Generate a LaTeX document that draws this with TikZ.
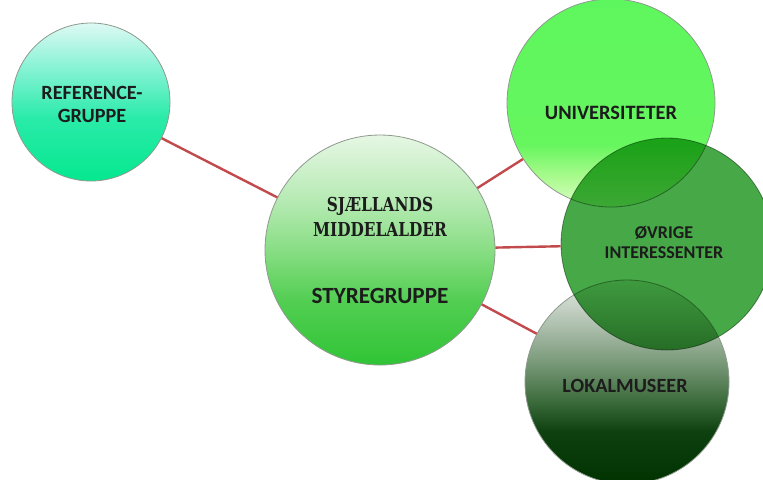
\documentclass[tikz,border=0pt]{standalone}
\usepackage{fontspec}
\setmainfont{Carlito}
\newfontfamily\decofont[FakeStretch=0.8]{DejaVu Serif}
\usetikzlibrary{positioning}
\definecolor{ink}{HTML}{1C1C1C}
\definecolor{rope}{HTML}{C24A4C}
\definecolor{rim}{HTML}{8E9A8E}
\definecolor{refA}{HTML}{05E88F}\definecolor{refB}{HTML}{2AEBA9}\definecolor{refC}{HTML}{82F2D3}\definecolor{refD}{HTML}{DDF9F3}
\definecolor{styA}{HTML}{30C436}\definecolor{styB}{HTML}{52CE52}\definecolor{styC}{HTML}{86DD82}\definecolor{styD}{HTML}{B5EAB2}\definecolor{styE}{HTML}{E6F7E4}
\definecolor{uniA}{HTML}{DAFFC4}\definecolor{uniB}{HTML}{A8FA8C}\definecolor{uniC}{HTML}{66F65E}\definecolor{uniD}{HTML}{5EF65E}
\definecolor{lokA}{HTML}{003300}\definecolor{lokB}{HTML}{0E4010}\definecolor{lokC}{HTML}{3A6A3A}\definecolor{lokD}{HTML}{7A9A7A}\definecolor{lokE}{HTML}{B4C4B4}\definecolor{lokF}{HTML}{E4EAE4}
\definecolor{ovrfill}{HTML}{46A846}
\pgfdeclareverticalshading{refshade}{100bp}{color(0bp)=(refA); color(25bp)=(refA); color(45bp)=(refB); color(60bp)=(refC); color(75bp)=(refD); color(100bp)=(refD)}
\pgfdeclareverticalshading{styshade}{100bp}{color(0bp)=(styA); color(25bp)=(styA); color(39bp)=(styB); color(49.5bp)=(styC); color(60.5bp)=(styD); color(75bp)=(styE); color(100bp)=(styE)}
\pgfdeclareverticalshading{unishade}{100bp}{color(0bp)=(uniA); color(25bp)=(uniA); color(32.5bp)=(uniB); color(40bp)=(uniC); color(75bp)=(uniD); color(100bp)=(uniD)}
\pgfdeclareverticalshading{lokshade}{100bp}{color(0bp)=(lokA); color(25bp)=(lokA); color(38bp)=(lokB); color(45bp)=(lokC); color(55bp)=(lokD); color(65bp)=(lokE); color(75bp)=(lokF); color(100bp)=(lokF)}
\tikzset{bubble/.style={circle,draw=rim,line width=.4pt,inner sep=0pt}, link/.style={draw=rope,line width=1.2pt}, tag/.style={align=center,text=ink,font=\fontsize{10.1}{11.5}\selectfont\bfseries}, decotag/.style={align=center,text=ink,font=\fontsize{9.6}{12.5}\decofont\bfseries}}

\begin{document}
\begin{tikzpicture}[x=.5pt,y=-.5pt]
\useasboundingbox (0,0) rectangle (763,479);
% circles
\node[bubble,shading=refshade,minimum size=79pt] (ref) at (91,102) {};
\node[bubble,shading=styshade,minimum size=115pt] (sty) at (380,250) {};
\node[bubble,shading=unishade,minimum size=104pt] (uni) at (611,103) {};
\node[bubble,shading=lokshade,minimum size=102pt] (lok) at (627,382) {};
\node[bubble,fill=ovrfill,blend mode=multiply,minimum size=106pt] (ovr) at (667,244) {};
% links
\foreach \t in {ref,uni,ovr,lok}{\draw[link] (sty) -- (\t);}
% texts
\node[tag] (reftext) at (92,104.5) {REFERENCE-\\GRUPPE};
\node[decotag] (stytitle) at (380,217) {SJÆLLANDS\\MIDDELALDER};
\node[tag,font=\fontsize{11.6}{13}\selectfont\bfseries] (stysub) at (380,296) {STYREGRUPPE};
\node[tag,font=\fontsize{10.2}{12}\selectfont\bfseries] (unitext) at (611,112.5) {UNIVERSITETER};
\node[tag,font=\fontsize{9}{10}\selectfont\bfseries] (ovrtext) at (664,242.5) {ØVRIGE\\INTERESSENTER};
\node[tag] (loktext) at (625,386) {LOKALMUSEER};
\end{tikzpicture}
\end{document}
